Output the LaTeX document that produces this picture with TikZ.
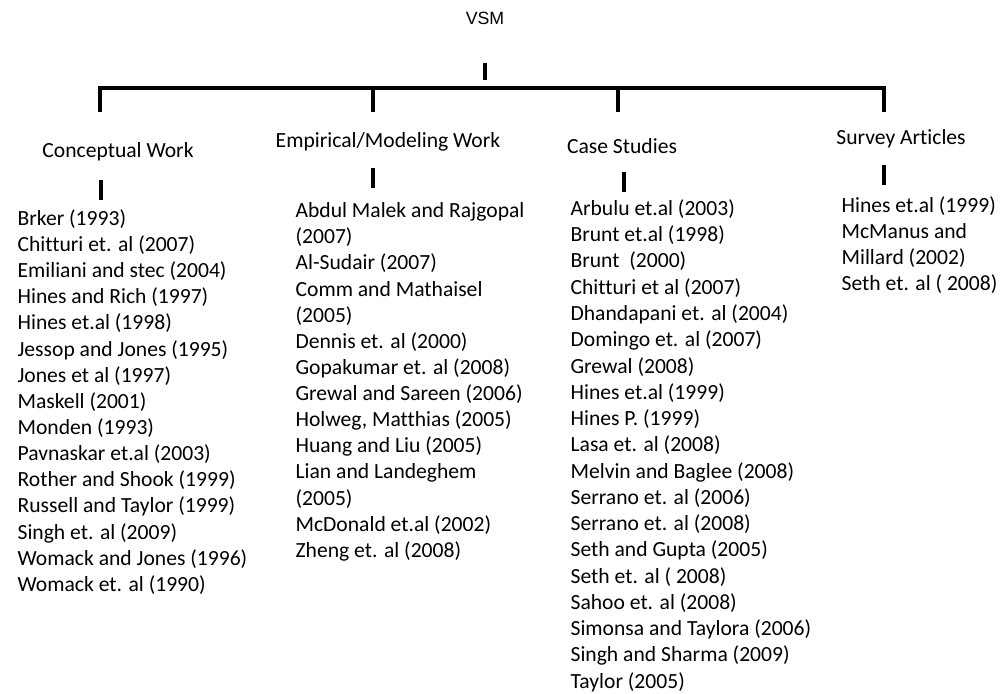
\documentclass[tikz,border=0pt]{standalone}
\usepackage{fontspec}
\setmainfont[Ligatures=CommonOff]{Carlito}
\newfontfamily\rootfont{Liberation Sans}
\usetikzlibrary{positioning}

\begin{document}
\begin{tikzpicture}[x=0.75pt, y=-0.75pt, line width=2.4pt,
    head/.style={inner sep=0pt, font=\fontsize{16.2}{19.6}\selectfont},
    refs/.style={anchor=north west, inner sep=0pt, align=left, font=\fontsize{16.2}{19.6}\selectfont}]
    \useasboundingbox (0,0) rectangle (1005,693);
    \node[font=\rootfont\fontsize{13.3}{15}\selectfont](vsm) at (485,18) {VSM};
    % tree bar
    \coordinate (top) at (485,63);
    \coordinate (bar) at (485,88);
    \draw (top) -- ++(0,17);
    \draw (100,112) -- (100,88) -- (884,88) -- (884,112);
    \foreach \x in {373, 618}
    {\draw (\x,88) -- (\x,112);}
    % headings
    \node[head](concept) at (118,152) {Conceptual Work};
    \node[head](empiric) at (388,142) {Empirical/Modeling Work};
    \node[head](cases) at (622,146) {Case Studies};
    \node[head](survey) at (901,139) {Survey Articles};
    \foreach \x/\y in {101/180, 373/168, 624/172, 884/165}
    {\draw (\x,\y) -- ++(0,20);}
    % reference lists
    \node[refs](conceptlist) at (16,208) {Brker (1993)\\Chitturi et. al (2007)\\Emiliani and stec (2004)\\Hines and Rich (1997)\\Hines et.al (1998)\\Jessop and Jones (1995)\\Jones et al (1997)\\Maskell (2001)\\Monden (1993)\\Pavnaskar et.al (2003)\\Rother and Shook (1999)\\Russell and Taylor (1999)\\Singh et. al (2009)\\Womack and Jones (1996)\\Womack et. al (1990)};
    \node[refs](empiriclist) at (294,201) {Abdul Malek and Rajgopal\\(2007)\\Al-Sudair (2007)\\Comm and Mathaisel\\(2005)\\Dennis et. al (2000)\\Gopakumar et. al (2008)\\Grewal and Sareen (2006)\\Holweg, Matthias (2005)\\Huang and Liu (2005)\\Lian and Landeghem\\(2005)\\McDonald et.al (2002)\\Zheng et. al (2008)};
    \node[refs, font=\fontsize{16.2}{19.7}\selectfont](caselist) at (569,198) {Arbulu et.al (2003)\\Brunt et.al (1998)\\Brunt\ \ (2000)\\Chitturi et al (2007)\\Dhandapani et. al (2004)\\Domingo et. al (2007)\\Grewal (2008)\\Hines et.al (1999)\\Hines P. (1999)\\Lasa et. al (2008)\\Melvin and Baglee (2008)\\Serrano et. al (2006)\\Serrano et. al (2008)\\Seth and Gupta (2005)\\Seth et. al ( 2008)\\Sahoo et. al (2008)\\Simonsa and Taylora (2006)\\Singh and Sharma (2009)\\Taylor (2005)};
    \node[refs](surveylist) at (840,195) {Hines et.al (1999)\\McManus and\\Millard (2002)\\Seth et. al ( 2008)};
\end{tikzpicture}
\end{document}
